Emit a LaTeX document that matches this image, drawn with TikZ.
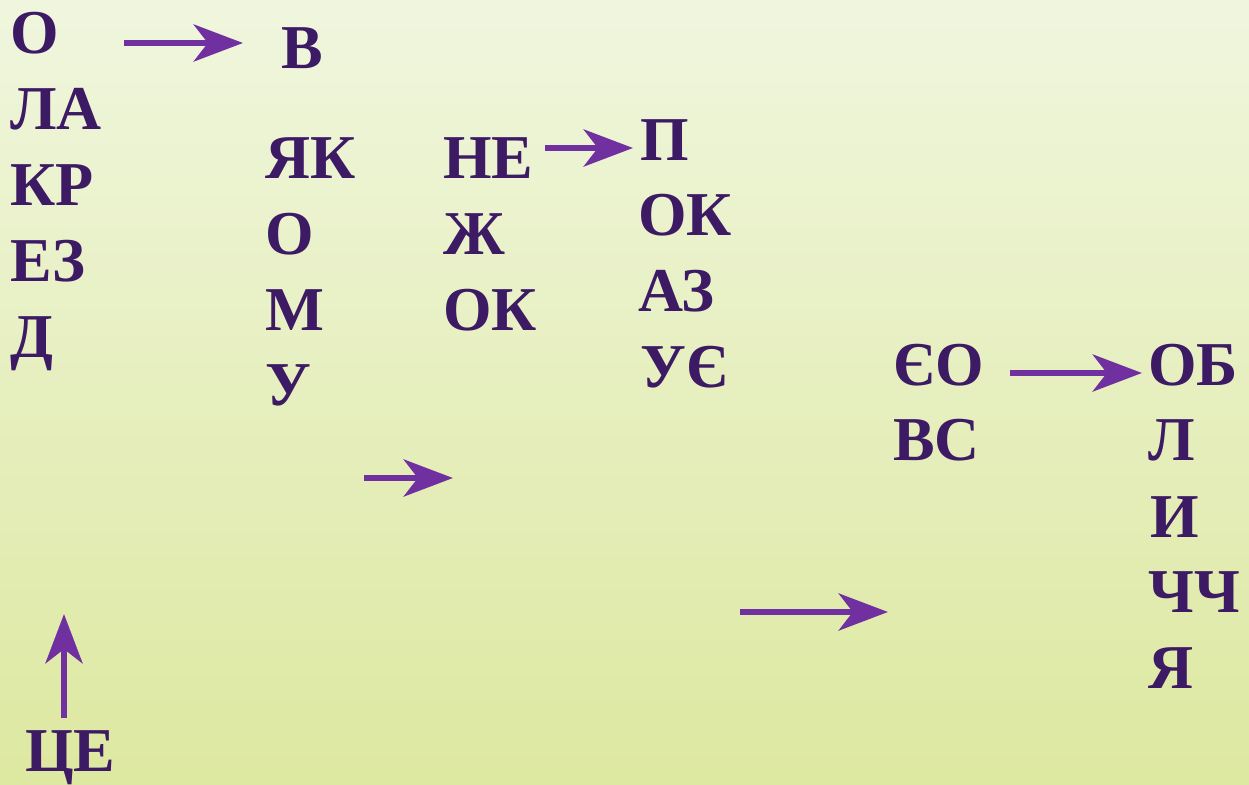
\documentclass[tikz,border=0pt]{standalone}
\usepackage{fontspec}
\setmainfont{Liberation Serif}
\usetikzlibrary{arrows.meta, positioning}
\definecolor{wordink}{RGB}{60,26,100}
\definecolor{arrowink}{RGB}{112,48,160}
\definecolor{bgtop}{RGB}{240,246,222}
\definecolor{bgbottom}{RGB}{221,232,160}

\begin{document}
\begin{tikzpicture}[
    x=0.02cm, y=-0.02cm,
    word/.style={anchor=base west, inner sep=0pt, text=wordink, font=\fontsize{35.5}{40}\selectfont\bfseries},
    arr/.style={-{Stealth[length=28pt, width=21pt, inset=8pt]}, line width=3.8pt, draw=arrowink, fill=arrowink}
]
\shade[top color=bgtop, bottom color=bgbottom] (0,0) rectangle (1249,785);
\useasboundingbox (0,0) rectangle (1249,785);
% first column
\node[word] (o1) at (10,53) {О};
\node[word] (la) at (10,129) {ЛА};
\node[word] (kr) at (10,205) {КР};
\node[word] (ez) at (10,281) {ЕЗ};
\node[word] (d) at (10,357) {Д};
\node[word] (tse) at (25,771) {ЦЕ};
% second column
\node[word] (v) at (281,68) {В};
\node[word] (yak) at (265,178) {ЯК};
\node[word] (o2) at (265,254) {О};
\node[word] (m) at (265,330) {М};
\node[word] (u) at (265,405) {У};
% third column
\node[word] (ne) at (443,178) {НЕ};
\node[word] (zh) at (443,254) {Ж};
\node[word] (ok1) at (443,330) {ОК};
% fourth column
\node[word] (p) at (640,160) {П};
\node[word] (ok2) at (638,235) {ОК};
\node[word] (az) at (638,311) {АЗ};
\node[word] (uye) at (640,387) {УЄ};
% fifth column
\node[word] (yeo) at (893,385) {ЄО};
\node[word] (vs) at (893,460) {ВС};
% sixth column
\node[word] (ob) at (1148,385) {ОБ};
\node[word] (l) at (1148,460) {Л};
\node[word] (y) at (1150,537) {И};
\node[word] (chch) at (1148,612) {ЧЧ};
\node[word] (ya) at (1148,688) {Я};
% arrow ends
\coordinate (a1s) at (124,43);
\coordinate (a1e) at (243,43);
\coordinate (a2s) at (545,148);
\coordinate (a2e) at (633,148);
\coordinate (a3s) at (1010,373);
\coordinate (a3e) at (1142,373);
\coordinate (a4s) at (364,478);
\coordinate (a4e) at (453,478);
\coordinate (a5s) at (740,612);
\coordinate (a5e) at (888,612);
\coordinate (a6s) at (64,718);
\coordinate (a6e) at (64,614);
\draw[arr] (a1s) -- (a1e);
\draw[arr] (a2s) -- (a2e);
\draw[arr] (a3s) -- (a3e);
\draw[arr] (a4s) -- (a4e);
\draw[arr] (a5s) -- (a5e);
\draw[arr] (a6s) -- (a6e);
\end{tikzpicture}
\end{document}
